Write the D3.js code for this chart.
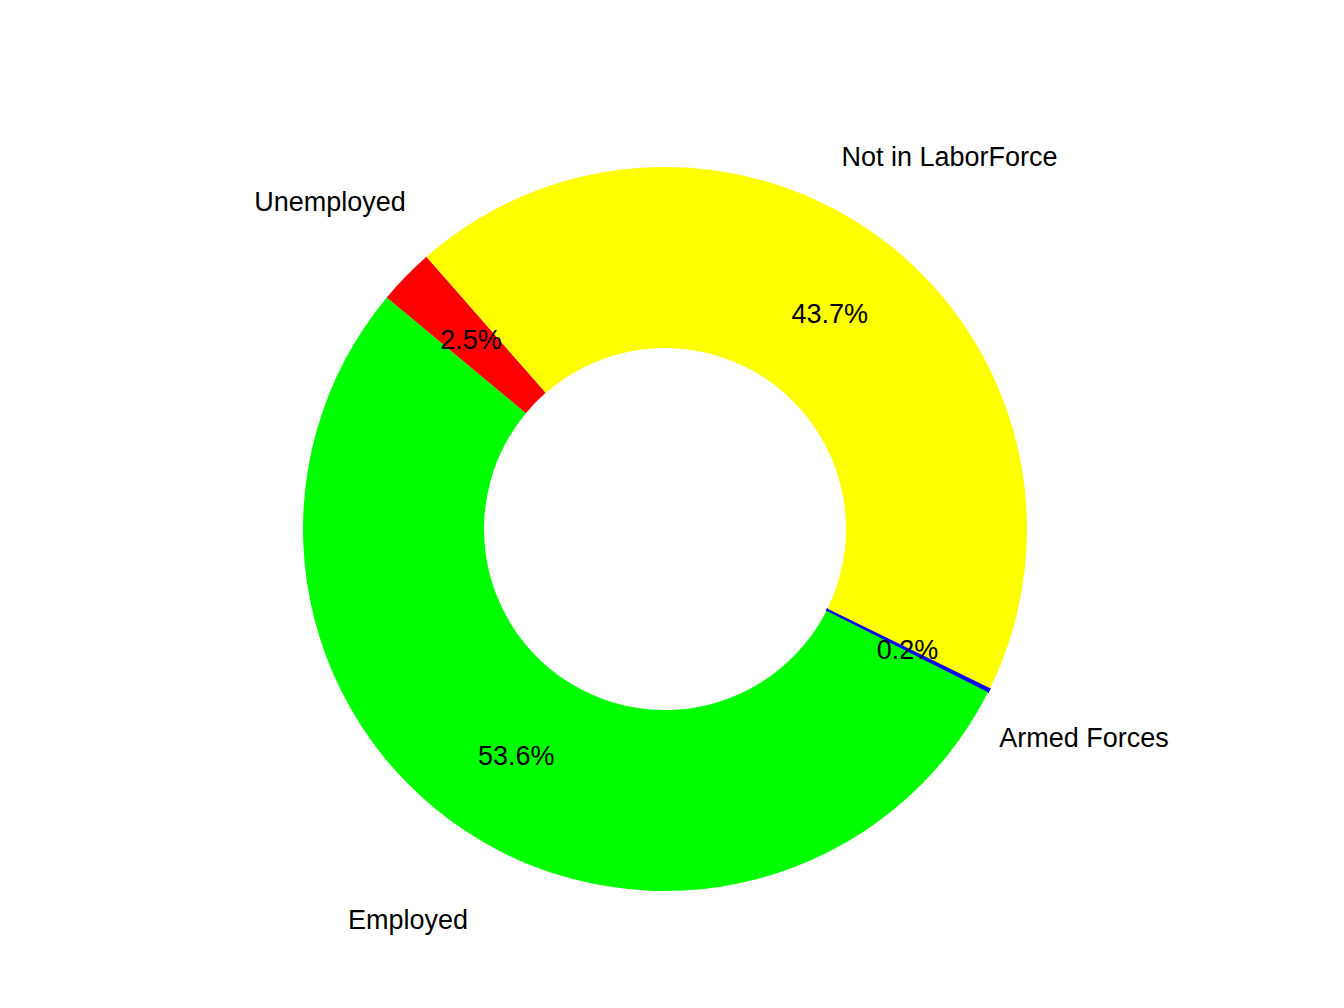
<!DOCTYPE html>
<html><head><meta charset="utf-8">
<script src="https://cdn.jsdelivr.net/npm/d3@7"></script>
<style>body{margin:0;background:#fff}</style></head>
<body><svg id="c" width="1344" height="1008"></svg>
<script>
const categories = ["Armed Forces","Employed","Unemployed","Not in LaborForce"];
const values = [0.2, 53.6, 2.5, 43.7];
const colors = ["#0000ff","#00ff00","#ff0000","#ffff00"];
const labels = ["0.2%","53.6%","2.5%","43.7%"];

const svg = d3.select("#c");
const cx = 665, cy = 529, R = 362, r0 = 181;
const start = 116.1 * Math.PI/180;
const pie = d3.pie().sort(null).value(d=>d).startAngle(start).endAngle(start + 2*Math.PI);
const arcs = pie(values);
const arc = d3.arc().innerRadius(r0).outerRadius(R);
const g = svg.append("g").attr("transform",`translate(${cx},${cy})`);
g.selectAll("path").data(arcs).join("path").attr("d",arc)
  .attr("fill",(d,i)=>colors[i]).attr("stroke",(d,i)=>i===0?colors[0]:"none").attr("stroke-width",1.5);
const mid = d => (d.startAngle+d.endAngle)/2;
const pos = (d,rr)=>[rr*Math.sin(mid(d)), -rr*Math.cos(mid(d))];
g.selectAll("text.p").data(arcs).join("text").attr("class","p")
  .attr("x",d=>pos(d,271)[0]).attr("y",d=>pos(d,271)[1])
  .attr("text-anchor","middle").attr("dominant-baseline","central")
  .attr("font-family","Liberation Sans, Arial").attr("font-size",27)
  .text((d,i)=>labels[i]);
g.selectAll("text.c").data(arcs).join("text").attr("class","c")
  .attr("x",d=>pos(d,468)[0]).attr("y",d=>pos(d,468)[1])
  .attr("text-anchor","middle").attr("dominant-baseline","central")
  .attr("font-family","Liberation Sans, Arial").attr("font-size",27)
  .text((d,i)=>categories[i]);
</script></body></html>
